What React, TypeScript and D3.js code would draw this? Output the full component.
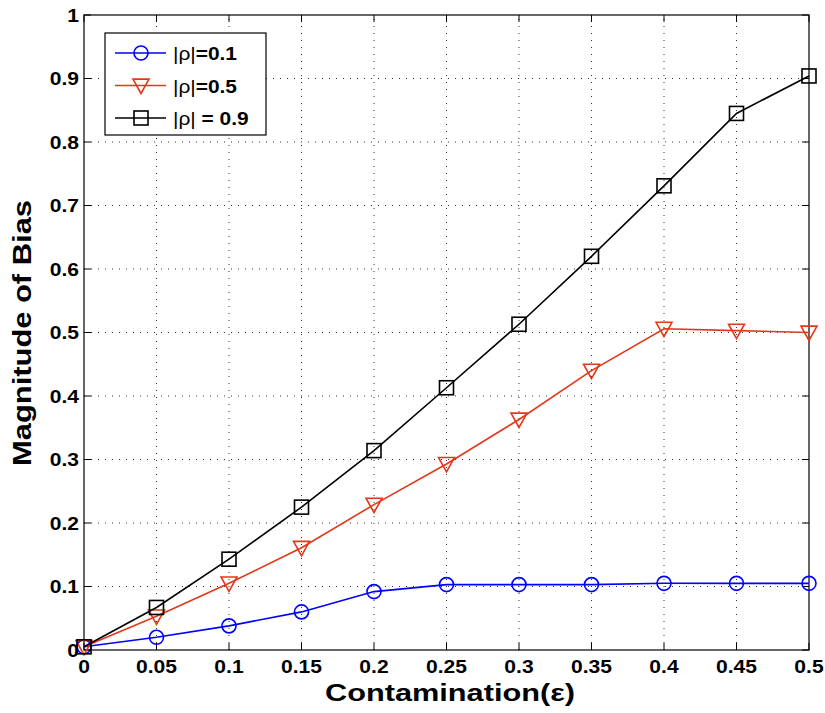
import React from "react";
import * as d3 from "d3";

const xValues = [0, 0.05, 0.1, 0.15, 0.2, 0.25, 0.3, 0.35, 0.4, 0.45, 0.5];
const rho01 = [0.005, 0.02, 0.038, 0.06, 0.092, 0.103, 0.103, 0.103, 0.105, 0.105, 0.105];
const rho05 = [0.005, 0.053, 0.105, 0.161, 0.229, 0.293, 0.363, 0.44, 0.506, 0.503, 0.5];
const rho09 = [0.005, 0.067, 0.143, 0.225, 0.314, 0.413, 0.513, 0.62, 0.731, 0.845, 0.904];
const xTicks = [0, 0.05, 0.1, 0.15, 0.2, 0.25, 0.3, 0.35, 0.4, 0.45, 0.5];
const yTicks = [0, 0.1, 0.2, 0.3, 0.4, 0.5, 0.6, 0.7, 0.8, 0.9, 1];
const legendPrefix = ["|ρ|", "|ρ|", "|ρ|"];
const legendSuffix = ["=0.1", "=0.5", " = 0.9"];

const W = 825, H = 713;
const L = 84, R = 809, T = 15, B = 650;
const FONT = "'Liberation Sans', Arial, Helvetica, sans-serif";
const BLUE = "#0000ff", RED = "#e2381a", BLACK = "#000000";
const SX = 1.17;

export default function App() {
  const x = d3.scaleLinear().domain([0, 0.5]).range([L, R]);
  const y = d3.scaleLinear().domain([0, 1]).range([B, T]);
  const line = d3.line<number>().x((_, i) => x(xValues[i])).y((d) => y(d));

  const series = [
    { data: rho01, color: BLUE, marker: "circle" },
    { data: rho05, color: RED, marker: "tri" },
    { data: rho09, color: BLACK, marker: "square" },
  ];

  const marker = (m: string, cx: number, cy: number, color: string, key: any) => {
    if (m === "circle") return <circle key={key} cx={cx} cy={cy} r={7} fill="none" stroke={color} strokeWidth={1.6} />;
    if (m === "tri") {
      const s = 8;
      return <path key={key} d={`M${cx - s},${cy - s * 0.8}L${cx + s},${cy - s * 0.8}L${cx},${cy + s}Z`} fill="none" stroke={color} strokeWidth={1.6} />;
    }
    return <rect key={key} x={cx - 7} y={cy - 7} width={14} height={14} fill="none" stroke={color} strokeWidth={1.6} />;
  };

  return (
    <svg width={W} height={H} style={{ position: "absolute", left: 0, top: 0, background: "#fff" }} fontFamily={FONT}>
      <rect x={0} y={0} width={W} height={H} fill="#fff" />
      {xTicks.slice(1, -1).map((t) => (
        <line key={"gx" + t} x1={x(t)} x2={x(t)} y1={B} y2={T} stroke="#333" strokeWidth={1} strokeDasharray="1,6" />
      ))}
      {yTicks.slice(1, -1).map((t) => (
        <line key={"gy" + t} x1={L} x2={R} y1={y(t)} y2={y(t)} stroke="#333" strokeWidth={1} strokeDasharray="1,6" />
      ))}
      <rect x={L} y={T} width={R - L} height={B - T} fill="none" stroke="#000" strokeWidth={1.2} />
      {xTicks.map((t) => (
        <g key={"tx" + t}>
          <line x1={x(t)} x2={x(t)} y1={B} y2={B - 7} stroke="#000" />
          <line x1={x(t)} x2={x(t)} y1={T} y2={T + 7} stroke="#000" />
          <text transform={`translate(${x(t)},673) scale(${SX},1)`} textAnchor="middle" fontSize={18} fontWeight="bold">{String(t)}</text>
        </g>
      ))}
      {yTicks.map((t) => (
        <g key={"ty" + t}>
          <line x1={L} x2={L + 7} y1={y(t)} y2={y(t)} stroke="#000" />
          <line x1={R} x2={R - 7} y1={y(t)} y2={y(t)} stroke="#000" />
          <text transform={`translate(79,${y(t) + 6.5}) scale(${SX},1)`} textAnchor="end" fontSize={18} fontWeight="bold">{String(t)}</text>
        </g>
      ))}
      {series.map((s, si) => (
        <g key={"s" + si}>
          <path d={line(s.data) || ""} fill="none" stroke={s.color} strokeWidth={1.6} />
          {s.data.map((d, i) => marker(s.marker, x(xValues[i]), y(d), s.color, i))}
        </g>
      ))}
      <rect x={105} y={33} width={161} height={102} fill="#fff" stroke="#000" strokeWidth={1.2} />
      {series.map((s, i) => {
        const cy = 53 + i * 32.5;
        return (
          <g key={"lg" + i}>
            <line x1={115} x2={166} y1={cy} y2={cy} stroke={s.color} strokeWidth={1.6} />
            {marker(s.marker, 141, cy, s.color, "m")}
            <text transform={`translate(173,${cy + 7}) scale(1.1,1)`} fontSize={19}>
              <tspan>{legendPrefix[i]}</tspan>
              <tspan fontWeight="bold" style={{ whiteSpace: "pre" }}>{legendSuffix[i]}</tspan>
            </text>
          </g>
        );
      })}
      <text x={450} y={701} textAnchor="middle" fontSize={24} fontWeight="bold" textLength={250} lengthAdjust="spacingAndGlyphs">Contamination(ε)</text>
      <text transform={`translate(31,333) rotate(-90)`} textAnchor="middle" fontSize={25} fontWeight="bold" textLength={266} lengthAdjust="spacingAndGlyphs">Magnitude of Bias</text>
    </svg>
  );
}
